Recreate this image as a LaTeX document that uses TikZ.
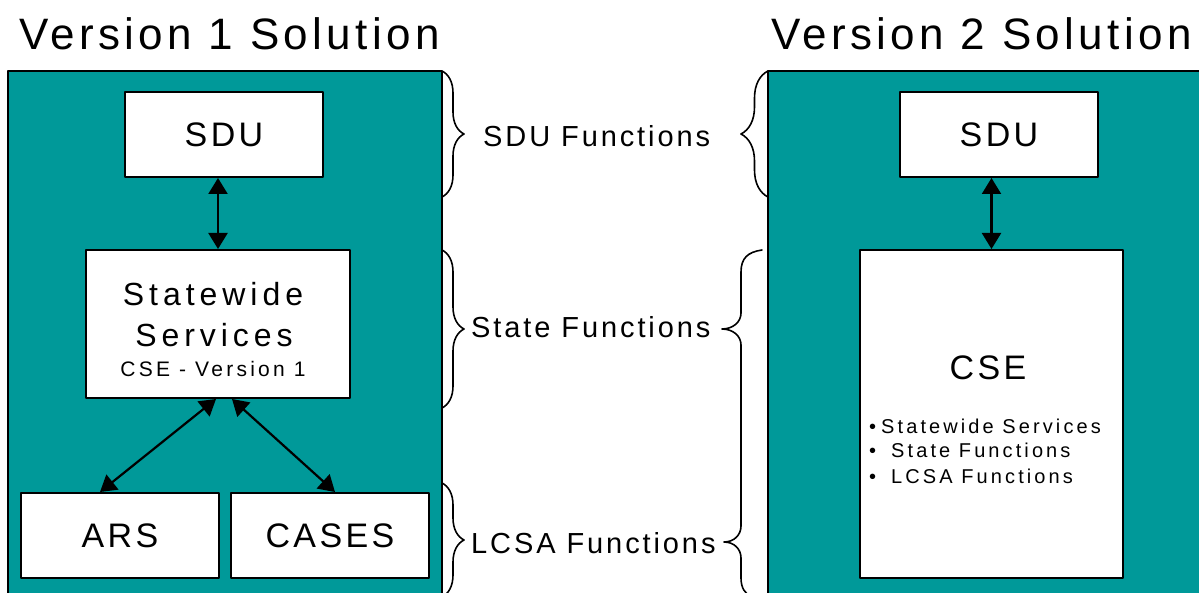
\documentclass[tikz,border=0pt]{standalone}
\usepackage{fontspec}
\setmainfont{Liberation Sans}
\newfontfamily\wide[LetterSpace=10]{Liberation Sans}
\newfontfamily\wider[LetterSpace=15.5]{Liberation Sans}
\usetikzlibrary{arrows.meta,decorations.pathreplacing}
\definecolor{teal}{RGB}{0,153,153}
\newcommand{\fs}[2][\wide]{\fontsize{#2}{#2}\selectfont#1}
\begin{document}
\begin{tikzpicture}[x=1pt, y=-1pt, line join=round, line cap=round,
  >={Triangle[length=16pt,width=19pt]},
  box/.style={draw, line width=2pt, fill=white, inner sep=0pt},
  link/.style={<->, line width=2.2pt},
  curly/.style={decorate, decoration={brace, amplitude=22pt}, line width=1.6pt},
  lbl/.style={inner sep=0pt, anchor=base west}]
 				\useasboundingbox (0,0) rectangle (1199,593);
 				\clip (0,0) rectangle (1199,593);
 				% panels
 				\filldraw[fill=teal, line width=2pt] (8,71) rectangle (442,620);
 				\filldraw[fill=teal, line width=2pt] (768,71) rectangle (1220,620);
 				\node[lbl] (t1) at (19,50) {\fs{44}Version 1 Solution};
 				\node[lbl] (t2) at (771,50) {\fs{44}Version 2 Solution};
 				% single label boxes
 				\foreach \n/\x/\y/\t in {sdu1/224/134.5/SDU, ars/120/535.5/ARS, cases/330/535.5/CASES, sdu2/999/134.5/SDU}
 				\node[box, minimum width=198pt, minimum height=85pt] (\n) at (\x,\y) {\fs{34}\t};
 				\node[box, minimum width=264pt, minimum height=148pt] (sws) at (218,324) {};
 				\node[anchor=base, inner sep=0pt] (sw1) at (213,306) {\fs[\wider]{32}Statewide};
 				\node[anchor=base, inner sep=0pt] (sw2) at (214,347) {\fs[\wider]{32}Services};
 				\node[anchor=base, inner sep=0pt] (sw3) at (213,377) {\fs[\wider]{21}CSE - Version 1};
 				\node[box, minimum width=263pt, minimum height=328pt] (cse) at (991.5,414) {};
 				\node[anchor=base, inner sep=0pt] (cset) at (988,379) {\fs{34}CSE};
 				\node[lbl] (b1) at (869,433) {\fs[\wider]{20}•\hspace{5pt}Statewide Services};
 				\node[lbl] (b2) at (869,457) {\fs[\wider]{20}•\hspace{15pt}State Functions};
 				\node[lbl] (b3) at (869,483) {\fs[\wider]{20}•\hspace{15pt}LCSA Functions};
 				% arrows
 				\draw[link] (sdu1.south -| sws.north) -- (sws.north);
 				\draw[link] ([xshift=-2pt]sws.south) -- ([xshift=-20pt]ars.north);
 				\draw[link] ([xshift=14pt]sws.south) -- ([xshift=5pt]cases.north);
 				\draw[link] (sdu2.south -| cse.north) -- (cse.north);
 				% braces
 				\draw[curly] (442,71) -- (442,197);
 				\draw[curly] (442,250) -- (442,408);
 				\draw[curly] (442,483) -- (442,597);
 				\draw[curly, decoration={amplitude=27pt}] (768,197) -- (768,71);
 				\draw[line width=1.6pt] (762,250) .. controls (748,252) and (741,258) .. (741,272) -- (741,313)
 				.. controls (741,322) and (733,329) .. (722,329) .. controls (733,329) and (741,336) .. (741,345) -- (741,526)
 				.. controls (741,535) and (734,542) .. (724,542) .. controls (734,542) and (741,549) .. (741,558) -- (741,578)
 				.. controls (741,588) and (745,594) .. (752,597);
 				\node[lbl] (fsdu) at (483,147) {\fs{29}SDU Functions};
 				\node[lbl] (fstate) at (471,338) {\fs{29}State Functions};
 				\node[lbl] (flcsa) at (471,553) {\fs{29}LCSA Functions};
 			\end{tikzpicture}
\end{document}
